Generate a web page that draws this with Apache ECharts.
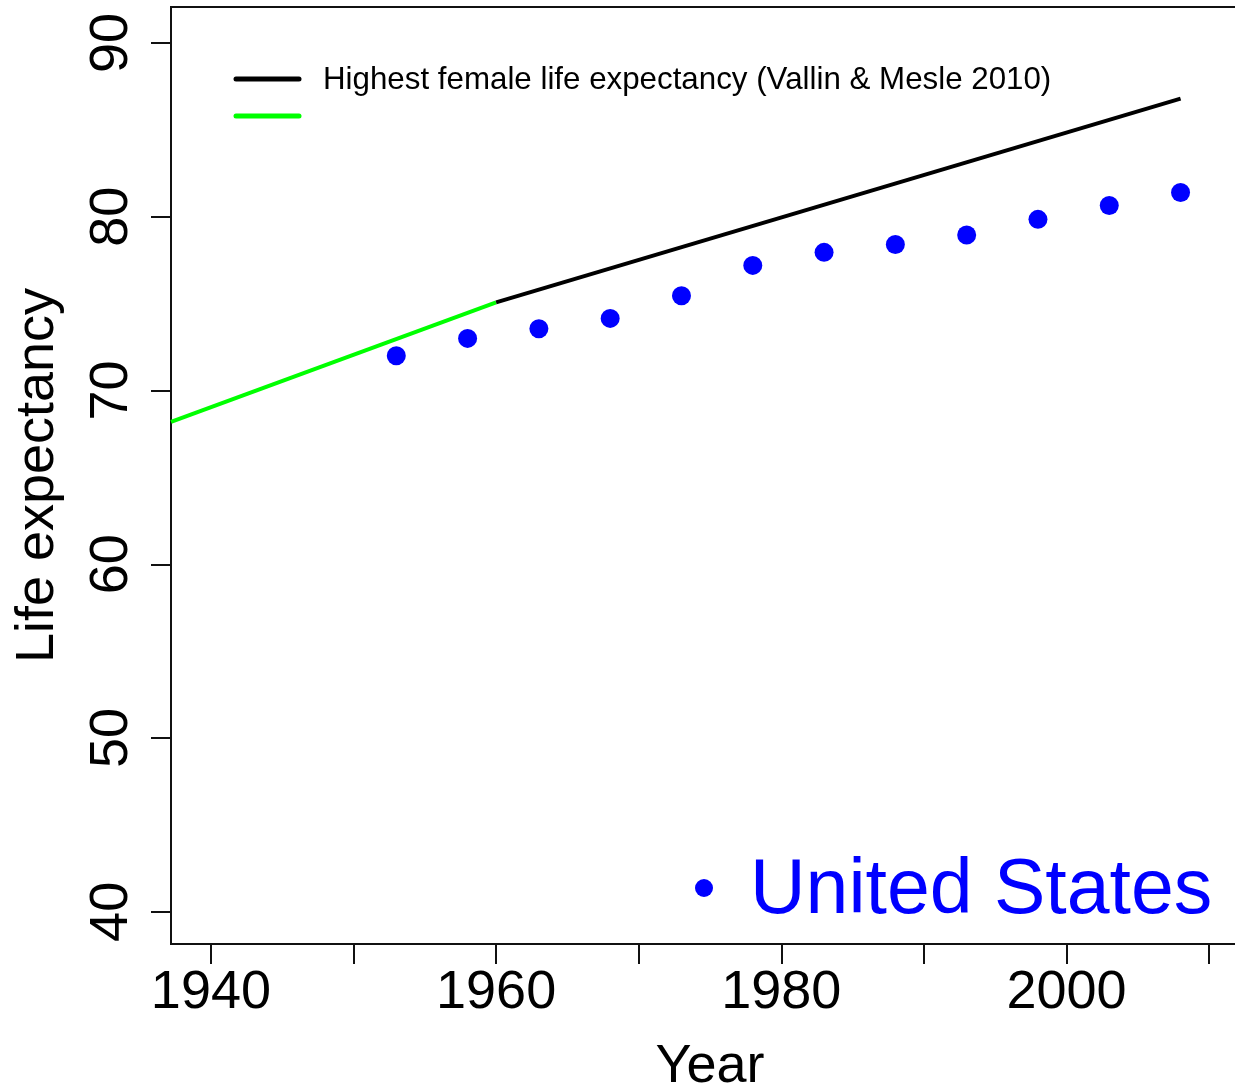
<!DOCTYPE html>
<html>
<head>
<meta charset="utf-8">
<script src="https://cdn.jsdelivr.net/npm/echarts@6/dist/echarts.min.js"></script>
<style>
html,body{margin:0;padding:0;background:#fff;}
#chart{width:1235px;height:1088px;}
</style>
</head>
<body>
<div id="chart"></div>
<script>
// ---- data ----
var usYears = [1953, 1958, 1963, 1968, 1973, 1978, 1983, 1988, 1993, 1998, 2003, 2008];
var usLifeExp = [72.0, 73.0, 73.55, 74.15, 75.45, 77.2, 77.95, 78.4, 78.95, 79.85, 80.65, 81.4];
var greenYears = [1937.2, 1960];
var greenValues = [68.2, 75.07];
var blackYears = [1960, 2008];
var blackValues = [75.07, 86.8];
var xTickValues = [1940, 1950, 1960, 1970, 1980, 1990, 2000, 2010];
var xLabelValues = [1940, 1960, 1980, 2000];
var yTickValues = [40, 50, 60, 70, 80, 90];
var legendLabel = 'Highest female life expectancy (Vallin & Mesle 2010)';
var countryLabel = 'United States';

function zip(a, b) { return a.map(function (v, i) { return [v, b[i]]; }); }

var FONT = '"Liberation Sans", Arial, sans-serif';
var chart = echarts.init(document.getElementById('chart'), null, { renderer: 'canvas' });

var option = {
  animation: false,
  backgroundColor: '#ffffff',
  grid: {
    left: 171, top: 7, width: 1078, height: 937,
    show: true, borderColor: '#111', borderWidth: 2, backgroundColor: 'transparent',
    containLabel: false, outerBoundsMode: 'none'
  },
  xAxis: {
    type: 'value', min: 1937.2, max: 2012.8,
    name: 'Year', nameLocation: 'middle', nameGap: 96,
    nameTextStyle: { fontFamily: FONT, fontSize: 54, color: '#000' },
    axisLine: { show: true, lineStyle: { color: '#111', width: 2 } },
    axisTick: { show: true, length: 20, lineStyle: { color: '#111', width: 2 }, customValues: xTickValues },
    axisLabel: { fontFamily: FONT, fontSize: 54, color: '#000', margin: 22, customValues: xLabelValues,
      formatter: function (v) { return String(v); } },
    splitLine: { show: false }
  },
  yAxis: {
    type: 'value', min: 38.15, max: 92.07,
    name: 'Life expectancy', nameLocation: 'middle', nameRotate: 90, nameGap: 106,
    nameTextStyle: { fontFamily: FONT, fontSize: 54, color: '#000' },
    axisLine: { show: true, lineStyle: { color: '#111', width: 2 } },
    axisTick: { show: true, length: 20, lineStyle: { color: '#111', width: 2 }, customValues: yTickValues },
    axisLabel: { fontFamily: FONT, fontSize: 54, color: '#000', rotate: 90, margin: 32, customValues: yTickValues,
      formatter: function (v) { return String(v); } },
    splitLine: { show: false }
  },
  series: [
    {
      name: 'green', type: 'line', data: zip(greenYears, greenValues),
      symbol: 'none', lineStyle: { color: '#00FF00', width: 4 }, z: 3
    },
    {
      name: 'Highest female life expectancy', type: 'line', data: zip(blackYears, blackValues),
      symbol: 'none', lineStyle: { color: '#000000', width: 4 }, z: 3
    },
    {
      name: countryLabel, type: 'scatter', data: zip(usYears, usLifeExp),
      symbol: 'circle', symbolSize: 19, itemStyle: { color: '#0000FF', opacity: 1 }, z: 4
    }
  ],
  graphic: [
    { type: 'line', shape: { x1: 236, y1: 79, x2: 299, y2: 79 }, style: { stroke: '#000', lineWidth: 5, lineCap: 'round' } },
    { type: 'line', shape: { x1: 236, y1: 116, x2: 299, y2: 116 }, style: { stroke: '#00FF00', lineWidth: 5, lineCap: 'round' } },
    { type: 'text', x: 323, y: 80, style: { text: legendLabel, font: '31.3px ' + FONT, fill: '#000', textVerticalAlign: 'middle' } },
    { type: 'circle', shape: { cx: 704, cy: 888, r: 9 }, style: { fill: '#0000FF' } },
    { type: 'text', x: 750, y: 892, style: { text: countryLabel, font: '77px ' + FONT, fill: '#0000FF', textVerticalAlign: 'middle' } }
  ]
};
chart.setOption(option);
</script>
</body>
</html>
